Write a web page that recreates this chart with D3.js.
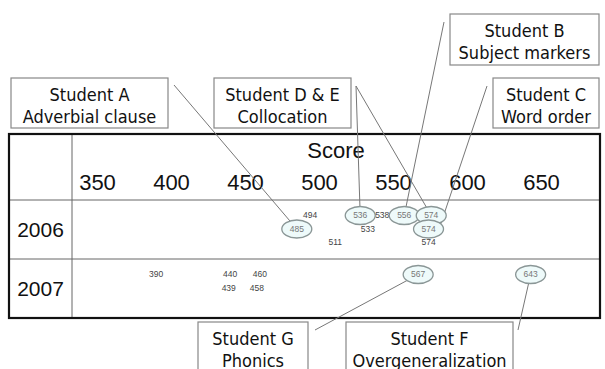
<!DOCTYPE html>
<html>
<head>
<meta charset="utf-8">
<script src="https://cdn.jsdelivr.net/npm/d3@7"></script>
<style>
  body { margin: 0; background: #fff; }
  svg { display: block; }
</style>
</head>
<body>
<script>
// data
const ticks = [350, 400, 450, 500, 550, 600, 650];
const years = ["2006", "2007"];
// scores per year, one array per printed line; id = circled student
const lines2006 = [
  [{score: 494}, {score: 536, id: "D"}, {score: 538}, {score: 556, id: "B"}, {score: 574, id: "E"}],
  [{score: 485, id: "A"}, {score: 533}, {score: 574, id: "C"}],
  [{score: 511}, {score: 574}]
];
const lines2007 = [
  [{score: 390}, {score: 440}, {score: 460}, {score: 567, id: "G"}, {score: 643, id: "F"}],
  [{score: 439}, {score: 458}]
];
const callouts = [
  {key: "A", targets: ["A"], text: ["Student A", "Adverbial clause"]},
  {key: "DE", targets: ["D", "E"], text: ["Student D & E", "Collocation"]},
  {key: "B", targets: ["B"], text: ["Student B", "Subject markers"]},
  {key: "C", targets: ["C"], text: ["Student C", "Word order"]},
  {key: "G", targets: ["G"], text: ["Student G", "Phonics"]},
  {key: "F", targets: ["F"], text: ["Student F", "Overgeneralization"]}
];

// layout
const width = 605, height = 369;
const table = {left: 9, right: 600, top: 134, header: 200, bottom: 318, col: 72};
const boxes = {
  A:  {x0: 11,  y0: 78,  x1: 168, y1: 128, from: [174, 85]},
  DE: {x0: 214, y0: 78,  x1: 351, y1: 128, from: [356, 86]},
  B:  {x0: 450, y0: 14,  x1: 599, y1: 65,  from: [444, 22]},
  C:  {x0: 493, y0: 78,  x1: 599, y1: 128, from: [487, 86], angle: -35},
  G:  {x0: 198, y0: 322, x1: 308, y1: 374, from: [315, 330]},
  F:  {x0: 346, y0: 322, x1: 513, y1: 374, from: [518, 330]}
};
const rx = 15, ry = 9;
const numFont = "Arial, 'Liberation Sans', sans-serif";
const boxFont = "'DejaVu Sans Condensed', 'Noto Sans', sans-serif";

const svg = d3.select("body").append("svg")
    .attr("width", width)
    .attr("height", height);

const x = d3.scaleLinear().domain([350, 650]).range([97, 541]);
const yRow = d3.scaleBand().domain(years).range([table.header, table.bottom]);

// table frame
svg.append("g").attr("stroke", "#666").attr("stroke-width", 1)
  .selectAll("line")
  .data([
    [table.left, table.header, table.right, table.header],
    [table.left, yRow("2007"), table.right, yRow("2007")],
    [table.col, table.top, table.col, table.bottom]
  ])
  .join("line")
    .attr("x1", d => d[0]).attr("y1", d => d[1])
    .attr("x2", d => d[2]).attr("y2", d => d[3]);

svg.append("rect")
    .attr("x", table.left).attr("y", table.top)
    .attr("width", table.right - table.left)
    .attr("height", table.bottom - table.top)
    .attr("fill", "none").attr("stroke", "#111").attr("stroke-width", 2.2);

svg.append("text")
    .attr("x", (table.col + table.right) / 2).attr("y", 158)
    .attr("text-anchor", "middle")
    .style("font", `22px ${numFont}`).attr("fill", "#111")
    .text("Score");

const axis = svg.append("g")
    .attr("transform", "translate(0,193)")
    .call(d3.axisTop(x).tickValues(ticks).tickSize(0).tickPadding(3))
axis.select(".domain").remove();
axis.selectAll("text").style("font", `22px ${numFont}`).attr("fill", "#111");

svg.append("g").selectAll("text")
  .data(years)
  .join("text")
    .attr("x", (table.left + table.col) / 2)
    .attr("y", d => yRow(d) + yRow.bandwidth() / 2)
    .attr("dy", "0.36em")
    .attr("text-anchor", "middle")
    .style("font", `21px ${numFont}`).attr("fill", "#111")
    .text(d => d);

// place scores: x from the scale, then push apart labels that collide on a line
function dodge(items) {
  const gap = (a, b) => (a.id && b.id) ? 27 : (a.id || b.id) ? 22 : 16;
  let clusters = items.map(d => [d]);
  const layout = c => {
    const offs = [0];
    for (let i = 1; i < c.length; i++) offs.push(offs[i - 1] + gap(c[i - 1], c[i]));
    const shift = d3.mean(c, d => d.want) - d3.mean(offs);
    c.forEach((d, i) => d.x = shift + offs[i]);
  };
  clusters.forEach(layout);
  let merged = true;
  while (merged) {
    merged = false;
    for (let i = 0; i < clusters.length - 1; i++) {
      const a = clusters[i], b = clusters[i + 1];
      const l = a[a.length - 1], r = b[0];
      if (r.x - l.x < gap(l, r)) {
        clusters.splice(i, 2, a.concat(b));
        layout(clusters[i]);
        merged = true;
        break;
      }
    }
  }
}

const points = [];
[[lines2006, "2006"], [lines2007, "2007"]].forEach(([lines, year]) => {
  lines.forEach((line, li) => {
    const items = line.map(d => ({...d, year, want: x(d.score),
      y: yRow(year) + 15.5 + li * 13.5}));
    items.sort((a, b) => a.want - b.want);
    dodge(items);
    points.push(...items);
  });
});
const byId = {};
points.filter(d => d.id).forEach(d => byId[d.id] = d);

// leader lines
function attach(from, p, angle) {
  if (angle !== undefined) {
    const a = angle * Math.PI / 180;
    return [p.x + rx * Math.cos(a), p.y + ry * Math.sin(a)];
  }
  const dx = from[0] - p.x, dy = from[1] - p.y;
  const t = 1 / Math.sqrt((dx / rx) ** 2 + (dy / ry) ** 2);
  return [p.x + dx * t, p.y + dy * t];
}
const leaders = callouts.flatMap(c => c.targets.map(id => {
  const b = boxes[c.key];
  return [b.from, attach(b.from, byId[id], b.angle)];
}));
svg.append("g").attr("stroke", "#777").attr("stroke-width", 1)
  .selectAll("line")
  .data(leaders)
  .join("line")
    .attr("x1", d => d[0][0]).attr("y1", d => d[0][1])
    .attr("x2", d => d[1][0]).attr("y2", d => d[1][1]);

// scores
const marks = svg.append("g").selectAll("g")
  .data(points)
  .join("g")
    .attr("transform", d => `translate(${d.x},${d.y})`);
marks.filter(d => d.id).append("ellipse")
    .attr("rx", rx).attr("ry", ry)
    .attr("fill", "#eefafa").attr("stroke", "#8a9696").attr("stroke-width", 1.3);
marks.append("text")
    .attr("text-anchor", "middle").attr("dy", "0.35em")
    .style("font", `8.5px ${numFont}`)
    .attr("fill", d => d.id ? "#777" : "#444")
    .text(d => d.score);

// callout boxes
const cb = svg.append("g").selectAll("g")
  .data(callouts)
  .join("g")
    .attr("transform", d => `translate(${boxes[d.key].x0},${boxes[d.key].y0})`);
cb.append("rect")
    .attr("width", d => boxes[d.key].x1 - boxes[d.key].x0)
    .attr("height", d => boxes[d.key].y1 - boxes[d.key].y0)
    .attr("fill", "#fff").attr("stroke", "#888").attr("stroke-width", 1.2);
cb.selectAll("text")
  .data(d => d.text.map((t, i) => ({t, i, w: boxes[d.key].x1 - boxes[d.key].x0})))
  .join("text")
    .attr("x", d => d.w / 2)
    .attr("y", d => 22.5 + d.i * 22)
    .attr("text-anchor", "middle")
    .style("font", `18px ${boxFont}`).attr("fill", "#111")
    .text(d => d.t);
</script>
</body>
</html>
